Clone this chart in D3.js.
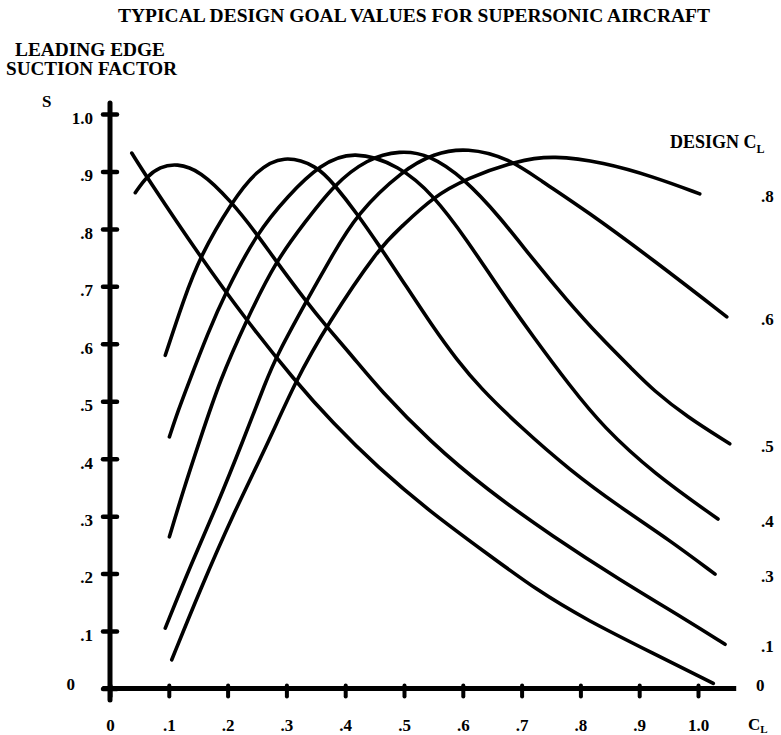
<!DOCTYPE html>
<html>
<head>
<meta charset="UTF-8">
<title>Typical design goal values for supersonic aircraft</title>
<script src="https://cdn.jsdelivr.net/npm/d3@7"></script>
<style>
body { margin: 0; background: #fff; }
text { font-family: "Liberation Serif", "Times New Roman", serif; font-weight: bold; fill: #000; }
</style>
</head>
<body>
<script>
// tick values and labels
var xTicks = [0, .1, .2, .3, .4, .5, .6, .7, .8, .9, 1.0];
var xTickLabels = ["0", ".1", ".2", ".3", ".4", ".5", ".6", ".7", ".8", ".9", "1.0"];
var yTicks = [0, .1, .2, .3, .4, .5, .6, .7, .8, .9, 1.0];
var yTickLabels = ["0", ".1", ".2", ".3", ".4", ".5", ".6", ".7", ".8", ".9", "1.0"];

// design CL of each curve
var designCL = ["0", ".1", ".3", ".4", ".5", ".6", ".8"];

// curves: [CL, S] pairs
var curve00 = [[0.037,0.932],[0.062,0.891],[0.153,0.752],[0.232,0.641],[0.315,0.535],[0.379,0.462],
  [0.454,0.386],[0.544,0.308],[0.641,0.235],[0.726,0.171],[0.811,0.119],[0.924,0.061],[1.026,0.009]];
var curve01 = [[0.043,0.863],[0.062,0.891],[0.085,0.908],[0.113,0.914],[0.153,0.902],[0.207,0.847],
  [0.249,0.792],[0.281,0.746],[0.335,0.672],[0.366,0.633],[0.414,0.576],[0.459,0.520],[0.544,0.430],
  [0.641,0.346],[0.754,0.264],[0.867,0.189],[0.981,0.119],[1.046,0.077]];
var curve03 = [[0.094,0.580],[0.125,0.676],[0.153,0.752],[0.207,0.847],[0.249,0.902],[0.295,0.929],
  [0.352,0.910],[0.380,0.879],[0.420,0.827],[0.459,0.769],[0.493,0.717],[0.550,0.628],[0.590,0.572],
  [0.629,0.524],[0.697,0.456],[0.782,0.380],[0.867,0.316],[0.952,0.258],[1.029,0.199]];
var curve04 = [[0.101,0.438],[0.116,0.484],[0.133,0.530],[0.167,0.620],[0.196,0.688],[0.249,0.792],
  [0.303,0.858],[0.357,0.912],[0.414,0.937],[0.493,0.910],[0.550,0.859],[0.607,0.781],[0.663,0.694],
  [0.720,0.612],[0.782,0.527],[0.839,0.455],[0.924,0.375],[1.034,0.295]];
var curve05 = [[0.101,0.264],[0.125,0.346],[0.153,0.433],[0.187,0.537],[0.232,0.641],[0.283,0.746],
  [0.332,0.812],[0.380,0.876],[0.437,0.922],[0.493,0.937],[0.544,0.929],[0.601,0.889],[0.663,0.821],
  [0.720,0.746],[0.777,0.676],[0.833,0.612],[0.890,0.554],[0.923,0.520],[0.981,0.473],[1.054,0.426]];
var curve06 = [[0.094,0.105],[0.136,0.212],[0.181,0.316],[0.227,0.433],[0.266,0.537],[0.283,0.578],
  [0.335,0.676],[0.377,0.752],[0.420,0.827],[0.499,0.903],[0.550,0.931],[0.607,0.942],[0.680,0.922],
  [0.731,0.885],[0.811,0.831],[0.924,0.746],[1.049,0.647]];
var curve08 = [[0.105,0.050],[0.153,0.171],[0.210,0.305],[0.266,0.421],[0.315,0.534],[0.369,0.633],
  [0.459,0.769],[0.493,0.801],[0.550,0.856],[0.607,0.888],[0.692,0.919],[0.754,0.928],[0.839,0.916],
  [0.924,0.891],[1.003,0.861]];

var curves = [curve00, curve01, curve03, curve04, curve05, curve06, curve08];

var W = 781, H = 735;
var svg = d3.select("body").append("svg")
    .attr("width", W)
    .attr("height", H);

var x = d3.scaleLinear().domain([0, 1]).range([110, 698]);
var y = d3.scaleLinear().domain([0, 1]).range([688.5, 114]);

// titles
svg.append("text")
    .attr("x", 414).attr("y", 22)
    .attr("text-anchor", "middle")
    .attr("font-size", 18)
    .attr("textLength", 592).attr("lengthAdjust", "spacingAndGlyphs")
    .text("TYPICAL DESIGN GOAL VALUES FOR SUPERSONIC AIRCRAFT");
svg.append("text")
    .attr("x", 15).attr("y", 56)
    .attr("font-size", 18)
    .attr("textLength", 150).attr("lengthAdjust", "spacingAndGlyphs")
    .text("LEADING EDGE");
svg.append("text")
    .attr("x", 6).attr("y", 75)
    .attr("font-size", 18)
    .attr("textLength", 171).attr("lengthAdjust", "spacingAndGlyphs")
    .text("SUCTION FACTOR");
svg.append("text")
    .attr("x", 42).attr("y", 107)
    .attr("font-size", 17)
    .text("S");

var dl = svg.append("text")
    .attr("x", 670).attr("y", 148)
    .attr("font-size", 18);
dl.append("tspan").text("DESIGN C");
dl.append("tspan").attr("font-size", 12).attr("dy", 5).text("L");

// axes
var yAxis = d3.axisLeft(y)
    .tickValues(yTicks)
    .tickFormat(function(d, i){ return yTickLabels[i]; })
    .tickSizeInner(7).tickSizeOuter(0).tickPadding(10);
var gy = svg.append("g")
    .attr("transform", "translate(" + x(0) + ",0)")
    .call(yAxis);
gy.select(".domain").remove();
gy.selectAll(".tick line")
    .attr("x1", -7).attr("x2", 7)
    .attr("stroke", "#000").attr("stroke-width", 4.5).attr("stroke-linecap", "round");
gy.selectAll(".tick text")
    .attr("font-size", 17).attr("font-family", null)
    .attr("dy", "0.55em");
gy.selectAll(".tick text").filter(function(d){ return d === 0; })
    .attr("x", -35).attr("dy", "0.05em");

var xAxis = d3.axisBottom(x)
    .tickValues(xTicks)
    .tickFormat(function(d, i){ return xTickLabels[i]; })
    .tickSizeInner(8).tickSizeOuter(0).tickPadding(22);
var gx = svg.append("g")
    .attr("transform", "translate(0," + y(0) + ")")
    .call(xAxis);
gx.select(".domain").remove();
gx.selectAll(".tick line")
    .attr("y1", -3).attr("y2", 8)
    .attr("stroke", "#000").attr("stroke-width", 4).attr("stroke-linecap", "round");
gx.selectAll(".tick text")
    .attr("font-size", 17).attr("font-family", null);

// axis lines
svg.append("line")
    .attr("x1", x(0)).attr("x2", x(0))
    .attr("y1", y(-0.02)).attr("y2", y(1.019))
    .attr("stroke", "#000").attr("stroke-width", 5).attr("stroke-linecap", "round");
svg.append("line")
    .attr("x1", x(-0.013)).attr("x2", x(1.065))
    .attr("y1", y(0)).attr("y2", y(0))
    .attr("stroke", "#000").attr("stroke-width", 5);

var xl = svg.append("text")
    .attr("x", 748).attr("y", 730)
    .attr("font-size", 17);
xl.append("tspan").text("C");
xl.append("tspan").attr("font-size", 11).attr("dy", 3).text("L");

// curves
var line = d3.line()
    .x(function(d){ return x(d[0]); })
    .y(function(d){ return y(d[1]); })
    .curve(d3.curveBasis);

svg.selectAll("path.curve")
    .data(curves)
    .enter()
    .append("path")
    .attr("class", "curve")
    .attr("d", line)
    .attr("fill", "none")
    .attr("stroke", "#000")
    .attr("stroke-width", 3.6)
    .attr("stroke-linecap", "round");

// design CL labels at the right end of each curve
svg.selectAll("text.cl")
    .data(curves)
    .enter()
    .append("text")
    .attr("class", "cl")
    .attr("x", function(d, i){ return designCL[i] === "0" ? 756 : 761; })
    .attr("y", function(d){ return y(d[d.length - 1][1]) + 8; })
    .attr("font-size", 17)
    .text(function(d, i){ return designCL[i]; });
</script>
</body>
</html>
